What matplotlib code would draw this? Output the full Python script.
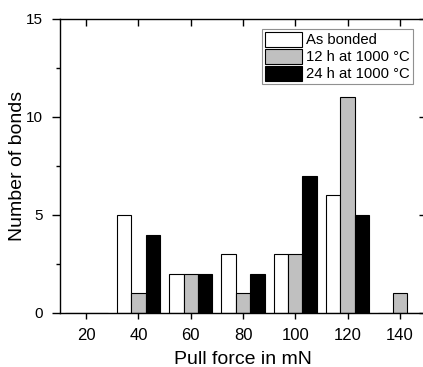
import numpy as np
import matplotlib
matplotlib.use("Agg")
from matplotlib import pyplot as plt
from matplotlib.ticker import MultipleLocator

plt.rcParams['font.family'] = ['Liberation Sans', 'DejaVu Sans']

# Data
forces = [20, 40, 60, 80, 100, 120, 140]
as_bonded = [0, 5, 2, 3, 3, 6, 0]
h12 = [0, 1, 2, 1, 3, 11, 1]
h24 = [0, 4, 2, 2, 7, 5, 0]
labels = ['As bonded', '12 h at 1000 °C', '24 h at 1000 °C']
colors = ['white', '#c0c0c0', 'black']

fig = plt.figure(figsize=(4.23, 3.67), dpi=100)
ax = fig.add_axes([60 / 423, 54 / 367, 366 / 423, 294 / 367])

x = np.array(forces)
w = 5.5
for i, (vals, lab, col) in enumerate(zip([as_bonded, h12, h24], labels, colors)):
    ax.bar(x + (i - 1) * w, vals, width=w, color=col, edgecolor='black',
           linewidth=0.8, label=lab)

ax.set_xlim(10, 150)
ax.set_ylim(0, 15)
ax.set_xticks(forces)
ax.yaxis.set_major_locator(MultipleLocator(5))
ax.yaxis.set_minor_locator(MultipleLocator(2.5))

ax.tick_params(axis='x', which='major', direction='out', length=4, width=1,
               labelsize=12, pad=7)
ax.tick_params(axis='y', which='major', direction='out', length=6, width=1,
               labelsize=11, pad=6)
ax.tick_params(axis='y', which='minor', direction='out', length=3, width=1)

# mirror ticks on top and right point inward
axt = ax.twiny()
axt.set_xlim(ax.get_xlim())
axt.set_xticks(forces)
axt.tick_params(axis='x', direction='in', length=5, width=1, labeltop=False)
axr = ax.twinx()
axr.set_ylim(ax.get_ylim())
axr.yaxis.set_major_locator(MultipleLocator(5))
axr.tick_params(axis='y', direction='in', length=5, width=1, labelright=False)

for sp in ax.spines.values():
    sp.set_linewidth(1)
for a in (axt, axr):
    for sp in a.spines.values():
        sp.set_visible(False)

ax.set_xlabel('Pull force in mN', fontsize=14)
ax.xaxis.set_label_coords(0.5, -0.13)
ax.set_ylabel('Number of bonds', fontsize=14)
ax.yaxis.set_label_coords(-0.092, 0.5)

leg = ax.legend(loc='upper right', bbox_to_anchor=(413 / 423, 1 - 29 / 367),
                bbox_transform=fig.transFigure, borderaxespad=0,
                fontsize=10.7, handlelength=2.5, handleheight=1.15,
                labelspacing=0.1, handletextpad=0.3, borderpad=0.2,
                fancybox=False, framealpha=1, edgecolor='#909090')
leg.get_frame().set_linewidth(0.8)
leg.remove()
axr.add_artist(leg)

fig.savefig('out.png', dpi=100)
